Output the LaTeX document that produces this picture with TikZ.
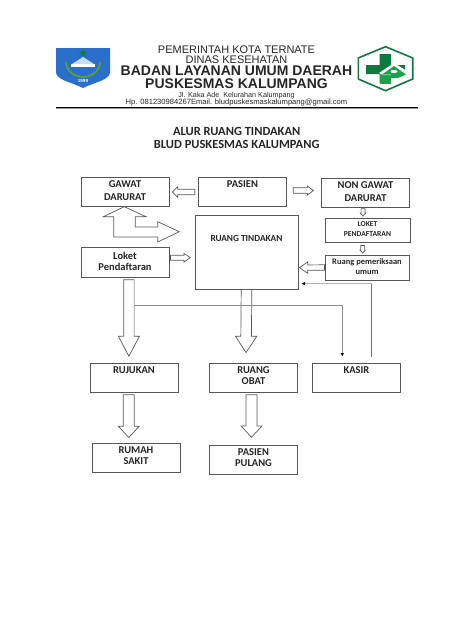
\documentclass[tikz,border=0pt]{standalone}
\usepackage{fontspec}
\setmainfont{Liberation Sans}
\newfontfamily\boxfont{Carlito}[Scale=1.0]
\usetikzlibrary{calc, arrows.meta}
\definecolor{edgegrey}{HTML}{555555}
\definecolor{logogreen}{HTML}{0E7A40}
\definecolor{logolight}{HTML}{1BA34C}
\definecolor{shieldblue}{HTML}{2A6FCB}
\tikzstyle{box} = [draw=edgegrey, line width=0.9pt, minimum width=88pt, minimum height=29pt, inner sep=1pt, align=center, text depth=4pt, font=\boxfont\bfseries\fontsize{10.5}{11}\selectfont, text=black!85]
\tikzstyle{head} = [inner sep=0pt, anchor=base, text=black!85]
\tikzstyle{blockline} = [draw=black!65, line width=0.7pt, fill=white, line join=miter]
\tikzstyle{thinline} = [draw=black!45, line width=0.6pt]
% block arrow: from, to, half shaft, half head, head length
\newcommand{\blockarrow}[5]{
    \coordinate (headbase) at ($(#2)!#5!(#1)$);
    \draw [blockline] ($(#1)!#3!90:(#2)$) -- ($(headbase)!#3!-90:(#1)$) -- ($(headbase)!#4!-90:(#1)$) -- (#2)
        -- ($(headbase)!#4!90:(#1)$) -- ($(headbase)!#3!90:(#1)$) -- ($(#1)!#3!-90:(#2)$) -- cycle;
}

\begin{document}
\begin{tikzpicture}[x=1pt, y=-1pt]
        \path [use as bounding box, fill=white] (0,0) rectangle (474,632);

        % kop surat
        \node (pemkot) [head, font=\fontsize{11}{12}\selectfont] at (236.5,53.5) {PEMERINTAH KOTA TERNATE};
        \node (dinas) [head, font=\fontsize{11}{12}\selectfont] at (236.5,63.3) {DINAS KESEHATAN};
        \node (badan) [head, font=\bfseries\fontsize{14}{15}\selectfont] at (236.5,75.6) {BADAN LAYANAN UMUM DAERAH};
        \node (kalumpang) [head, font=\bfseries\fontsize{14}{15}\selectfont] at (236.5,88.6) {PUSKESMAS KALUMPANG};
        \node (alamat) [head, font=\fontsize{7.2}{8}\selectfont] at (236.5,97) {Jl. Kaka Ade\ \ Kelurahan Kalumpang};
        \node (kontak) [head, font=\fontsize{7.6}{8}\selectfont] at (236.5,104.5) {Hp. 081230984267Email. bludpuskesmaskalumpang@gmail.com};
        \draw [black!40, line width=1pt] (56,108.2) -- (418,108.2);
        \draw [black, line width=1.2pt] (56,107.2) -- (418,107.2);

        % logo kota
        \fill [shieldblue] (56,48) -- (110,48) -- (110,72) .. controls (110,80) and (95,82) .. (83,88) .. controls (71,82) and (56,80) .. (56,72) -- cycle;
        \draw [logogreen!70!yellow, line width=1.8pt] (66,62) .. controls (66,72) and (76,77) .. (83,77) .. controls (90,77) and (100,72) .. (100,62);
        \fill [white!75!shieldblue] (72,64) -- (83,57) -- (94,64) -- cycle;
        \fill [white] (71,63.5) rectangle (95,66.5);
        \fill [logogreen] (83,48.5) -- (85.5,56.5) -- (78.5,51.5) -- (87.5,51.5) -- (80.5,56.5) -- cycle;
        \node (tahun) [inner sep=0pt, text=white, font=\bfseries\fontsize{4.5}{5}\selectfont] at (83,81) {1999};

        % logo puskesmas
        \draw [logogreen, line width=1.6pt] (385.5,46.7) -- (412.7,58) -- (412.7,79) -- (385.5,90.7) -- (358.3,79) -- (358.3,58) -- cycle;
        \fill [logogreen] (379.5,54) rectangle (391,65) (366,65) rectangle (405,74) (379.5,74) rectangle (391,83);
        \fill [logolight] (379.5,74) rectangle (391,84);
        \fill [white] (379,73) -- (394,63) -- (410,73) -- (406,75) -- (383,75) -- cycle;
        \fill [logolight] (382,74.5) -- (394,66) -- (406,74.5) -- (398,78) -- (391,78) -- (391,74.5) -- cycle;
        \fill [white] (394,71.5) ellipse (3.5 and 1.5);

        % judul
        \node (judul) [head, font=\boxfont\bfseries\fontsize{12.5}{14}\selectfont] at (236.7,135) {ALUR RUANG TINDAKAN};
        \node (blud) [head, font=\boxfont\bfseries\fontsize{12.5}{14}\selectfont] at (236.7,148) {BLUD PUSKESMAS KALUMPANG};

        % kotak alur
        \node (gawat) [box, font=\boxfont\bfseries\fontsize{10.5}{13}\selectfont, text depth=2pt] at (125,192) {GAWAT\\DARURAT};
        \node (pasien) [box] at (242.5,192) {PASIEN\\~};
        \node (nongawat) [box, font=\boxfont\bfseries\fontsize{10.5}{13}\selectfont, text depth=2pt] at (365.5,193) {NON GAWAT\\DARURAT};
        \node (loket) [box, minimum width=85pt, minimum height=24pt, text depth=2pt, font=\boxfont\bfseries\fontsize{7.6}{10}\selectfont] at (367.5,230) {LOKET\\PENDAFTARAN};
        \node (periksa) [box, minimum width=84pt, minimum height=25pt, text depth=2pt, font=\boxfont\bfseries\fontsize{8.5}{10}\selectfont] at (367,267.5) {Ruang pemeriksaan\\umum};
        \node (tindakan) [box, minimum width=103pt, minimum height=74pt, text depth=2pt, font=\boxfont\bfseries\fontsize{9.3}{11}\selectfont] at (246.5,252) {RUANG TINDAKAN\\[15pt]~};
        \node (loketkiri) [box, minimum height=30pt, text depth=2pt] at (125,262) {Loket\\Pendaftaran};
        \node (rujukan) [box] at (134,377.5) {RUJUKAN\\~};
        \node (obat) [box] at (253.5,377.5) {RUANG\\OBAT};
        \node (kasir) [box] at (356.5,377.5) {KASIR\\~};
        \node (rumah) [box] at (136,457.5) {RUMAH\\SAKIT};
        \node (pulang) [box] at (253.5,460) {PASIEN\\PULANG};

        % ujung panah blok
        \coordinate (a1) at ($(pasien.west)+(-3.3,0)$);
        \coordinate (a2) at ($(gawat.east)+(3,0)$);
        \coordinate (b1) at ($(pasien.east)+(6.3,-1.5)$);
        \coordinate (b2) at ($(nongawat.west)+(-7.7,-2.5)$);
        \coordinate (c1) at ($(nongawat.south)+(-2.5,0.7)$);
        \coordinate (c2) at ($(loket.north)+(-4.5,-1.5)$);
        \coordinate (d1) at ($(loket.south)+(-4.8,3)$);
        \coordinate (d2) at ($(periksa.north)+(-4.3,-1.5)$);
        \coordinate (e1) at (periksa.west);
        \coordinate (e2) at ($(tindakan.east)+(1,15.7)$);
        \coordinate (f1) at ($(loketkiri.east)+(1,-4.3)$);
        \coordinate (f2) at ($(tindakan.west)+(-4.3,5.7)$);
        \coordinate (g1) at ($(loketkiri.south)+(3.9,2.3)$);
        \coordinate (g2) at ($(rujukan.north)+(-5.1,-6.3)$);
        \coordinate (h1) at (tindakan.south);
        \coordinate (h2) at ($(obat.north)+(-7.5,-10)$);
        \coordinate (i1) at ($(rujukan.south)+(-5.2,2.3)$);
        \coordinate (i2) at ($(rumah.north)+(-7.2,-5)$);
        \coordinate (j1) at ($(obat.south)+(-2,2.3)$);
        \coordinate (j2) at ($(pulang.north)+(-2,-7.8)$);

        \blockarrow{a1}{a2}{2.7pt}{5.5pt}{5.3pt}
        \blockarrow{b1}{b2}{2.8pt}{4.5pt}{6pt}
        \blockarrow{c1}{c2}{1.9pt}{2.7pt}{3pt}
        \blockarrow{d1}{d2}{1.9pt}{2.7pt}{3pt}
        \blockarrow{e1}{e2}{2.7pt}{5.7pt}{8.3pt}
        \blockarrow{f1}{f2}{2.5pt}{4.3pt}{6.3pt}
        \blockarrow{g1}{g2}{5.2pt}{10.5pt}{20pt}
        \blockarrow{h1}{h2}{5.3pt}{10.7pt}{16.3pt}
        \blockarrow{i1}{i2}{5.5pt}{10.4pt}{11.3pt}
        \blockarrow{j1}{j2}{5.5pt}{10.5pt}{11.3pt}

        % panah belok gawat darurat
        \draw [blockline] (124.3,206.7) -- (103.3,216.7) -- (113.7,216.7) -- (113.7,237) -- (157.7,237) -- (157.7,242) -- (179.3,231.7)
            -- (157.7,221.7) -- (157.7,227) -- (135.3,227) -- (135.3,216.7) -- (146,216.7) -- cycle;

        % garis tipis
        \coordinate (cabang) at (134,305.5);
        \coordinate (tekuk) at (342.3,305.5);
        \coordinate (kasirujung) at (342.3,356.5);
        \coordinate (kasirkiri) at (371.7,356.7);
        \coordinate (kasiratas) at (371.7,283.7);
        \coordinate (balik) at (301.5,283.7);
        \draw [thinline, -{Latex[length=3.5pt,width=3.5pt,black]}] (cabang) -- (tekuk) -- (kasirujung);
        \draw [black!55, line width=0.9pt] (kasirkiri) -- (kasiratas);
        \draw [thinline, draw=black!30, -{Latex[length=3.5pt,width=3.5pt,black]}] (kasiratas) -- (balik);
\end{tikzpicture}
\end{document}
